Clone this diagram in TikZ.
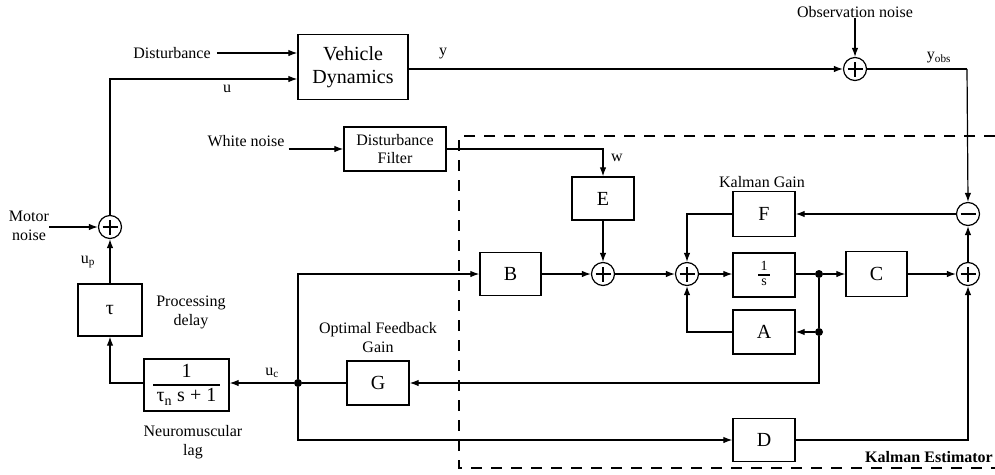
\documentclass[tikz,border=0pt]{standalone}
\usepackage{fontspec}
\setmainfont{Liberation Serif}
\usetikzlibrary{arrows.meta,calc}
\begin{document}
\begin{tikzpicture}[x=1pt,y=-1pt,
  blk/.style={draw, line width=1.3pt, inner sep=0pt, fill=white,
              font=\fontsize{20}{23}\selectfont, align=center},
  lbl/.style={font=\fontsize{16}{19}\selectfont, align=center, inner sep=0pt},
  ln/.style={line width=1.2pt},
  arr/.style={line width=1.2pt, -{Latex[length=9pt,width=6.5pt]}},
  dotnode/.style={circle, fill, inner sep=0pt, minimum size=8pt},
  sumnode/.style={circle, draw, line width=1.2pt, minimum size=23pt, inner sep=0pt,
    path picture={
      \draw[line width=1.1pt] ([xshift=-7.5pt]path picture bounding box.center)
        -- ([xshift=7.5pt]path picture bounding box.center);
      \draw[line width=1.1pt] ([yshift=-7.5pt]path picture bounding box.center)
        -- ([yshift=7.5pt]path picture bounding box.center);}},
  diffnode/.style={circle, draw, line width=1.2pt, minimum size=23pt, inner sep=0pt,
    path picture={
      \draw[line width=1.1pt] ([xshift=-7.5pt]path picture bounding box.center)
        -- ([xshift=7.5pt]path picture bounding box.center);}}
]
\useasboundingbox (0,0) rectangle (995,474);

% Kalman estimator frame
\draw[line width=2.8pt, dash pattern=on 11pt off 9pt]
  (995,136) -- (459,136) -- (459,468) -- (995,468);

% blocks
\node[blk, minimum width=110pt, minimum height=65pt] (VD) at (353,67) {Vehicle\\Dynamics};
\node[blk, minimum width=102pt, minimum height=44pt, font=\fontsize{16}{18}\selectfont] (DF) at (395,149) {Disturbance\\Filter};
\node[blk, minimum width=62pt, minimum height=43pt] (E) at (603,198.5) {E};
\node[blk, minimum width=61pt, minimum height=43pt] (B) at (510.5,274) {B};
\node[blk, minimum width=62pt, minimum height=44pt, font=\fontsize{14}{16}\selectfont] (I) at (764,275)
  {\setlength{\arrayrulewidth}{1.2pt}\renewcommand{\arraystretch}{0.9}\begin{tabular}{@{\,}c@{\,}}1\\\hline s\end{tabular}};
\node[blk, minimum width=62pt, minimum height=45pt] (F) at (764,214) {F};
\node[blk, minimum width=62pt, minimum height=44pt] (A) at (764,332) {A};
\node[blk, minimum width=61pt, minimum height=45pt] (C) at (876.5,274) {C};
\node[blk, minimum width=62pt, minimum height=43pt] (D) at (764,440) {D};
\node[blk, minimum width=62pt, minimum height=44pt] (G) at (378,383) {G};
\node[blk, minimum width=85pt, minimum height=52pt] (L) at (186.5,385)
  {\setlength{\arrayrulewidth}{1.6pt}\renewcommand{\arraystretch}{1.0}\begin{tabular}{@{\,}c@{\,}}1\\\hline τ\textsubscript{n} s + 1\end{tabular}};
\node[blk, minimum width=64pt, minimum height=52pt] (T) at (110,310) {τ};

% summing junctions and branch points
\node[sumnode] (so) at (855,69) {};
\node[sumnode] (s1) at (603,274) {};
\node[sumnode] (s2) at (687,274) {};
\node[sumnode] (s3) at (968,274) {};
\node[diffnode] (s4) at (968,214) {};
\node[sumnode] (sm) at (110,227) {};
\node[dotnode] (d1) at (819,274) {};
\node[dotnode] (d2) at (819,332) {};
\node[dotnode] (J) at (298,383) {};
\coordinate (yc) at (967,69);

% text labels
\node[lbl] (dist) at (172,53) {Disturbance};
\node[lbl] (wn) at (246,141) {White noise};
\node[lbl] (on) at (855,12) {Observation noise};
\node[lbl] (mn) at (29,226) {Motor\\noise};
\node[lbl] at (227,89) {u};
\node[lbl] at (443,54) {y};
\node[lbl] at (939,58) {y\textsubscript{obs}};
\node[lbl] at (617,158) {w};
\node[lbl] at (88,262) {u\textsubscript{p}};
\node[lbl] at (272,373) {u\textsubscript{c}};
\node[lbl] at (762,182) {Kalman Gain};
\node[lbl] at (191,312) {Processing\\delay};
\node[lbl] at (378,338) {Optimal Feedback\\Gain};
\node[lbl] at (193,442) {Neuromuscular\\lag};
\node[lbl, font=\fontsize{16}{19}\selectfont\bfseries] at (929,457) {Kalman Estimator};

% plant loop
\draw[arr] ([xshift=6pt]dist.east) -- (dist.east -| VD.west);
\draw[arr] (sm.north) |- ($(VD.west)+(0,12)$);
\draw[arr] ($(VD.east)+(0,2)$) -- (so.west);
\draw[arr] (on.south) -- (so.north);
\draw[ln] (so.east) -- (yc);
\draw[arr] (yc) -- (s4.north);
\draw[arr] (mn.east |- sm) -- (sm.west);
\draw[arr] (T.north) -- (sm.south);
\draw[arr] (L.west |- J) -| (T.south);
\draw[arr] (J) -- (J -| L.east);

% disturbance path
\draw[arr] ([xshift=4pt]wn.east |- DF.west) -- (DF.west);
\draw[arr] (DF.east) -| (E.north);
\draw[arr] (E.south) -- (s1.north);

% estimator
\draw[arr] (J) |- (B.west);
\draw[arr] (J) |- (D.west);
\draw[arr] (B.east) -- (s1.west);
\draw[arr] (s1.east) -- (s2.west);
\draw[arr] (s2.east) -- (s2 -| I.west);
\draw[ln] (s2 -| I.east) -- (d1);
\draw[arr] (d1) -- (d1 -| C.west);
\draw[arr] (C.east) -- (s3.west);
\draw[arr] (s3.north) -- (s4.south);
\draw[arr] (s4.west) -- (F.east);
\draw[arr] (F.west) -| (s2.north);
\draw[ln] (d1) -- (d2);
\draw[arr] (d2) -- (A.east);
\draw[arr] (A.west) -| (s2.south);
\draw[arr] (d2) |- (G.east);
\draw[ln] (G.west) -- (J);
\draw[arr] (D.east) -| (s3.south);
\end{tikzpicture}
\end{document}
